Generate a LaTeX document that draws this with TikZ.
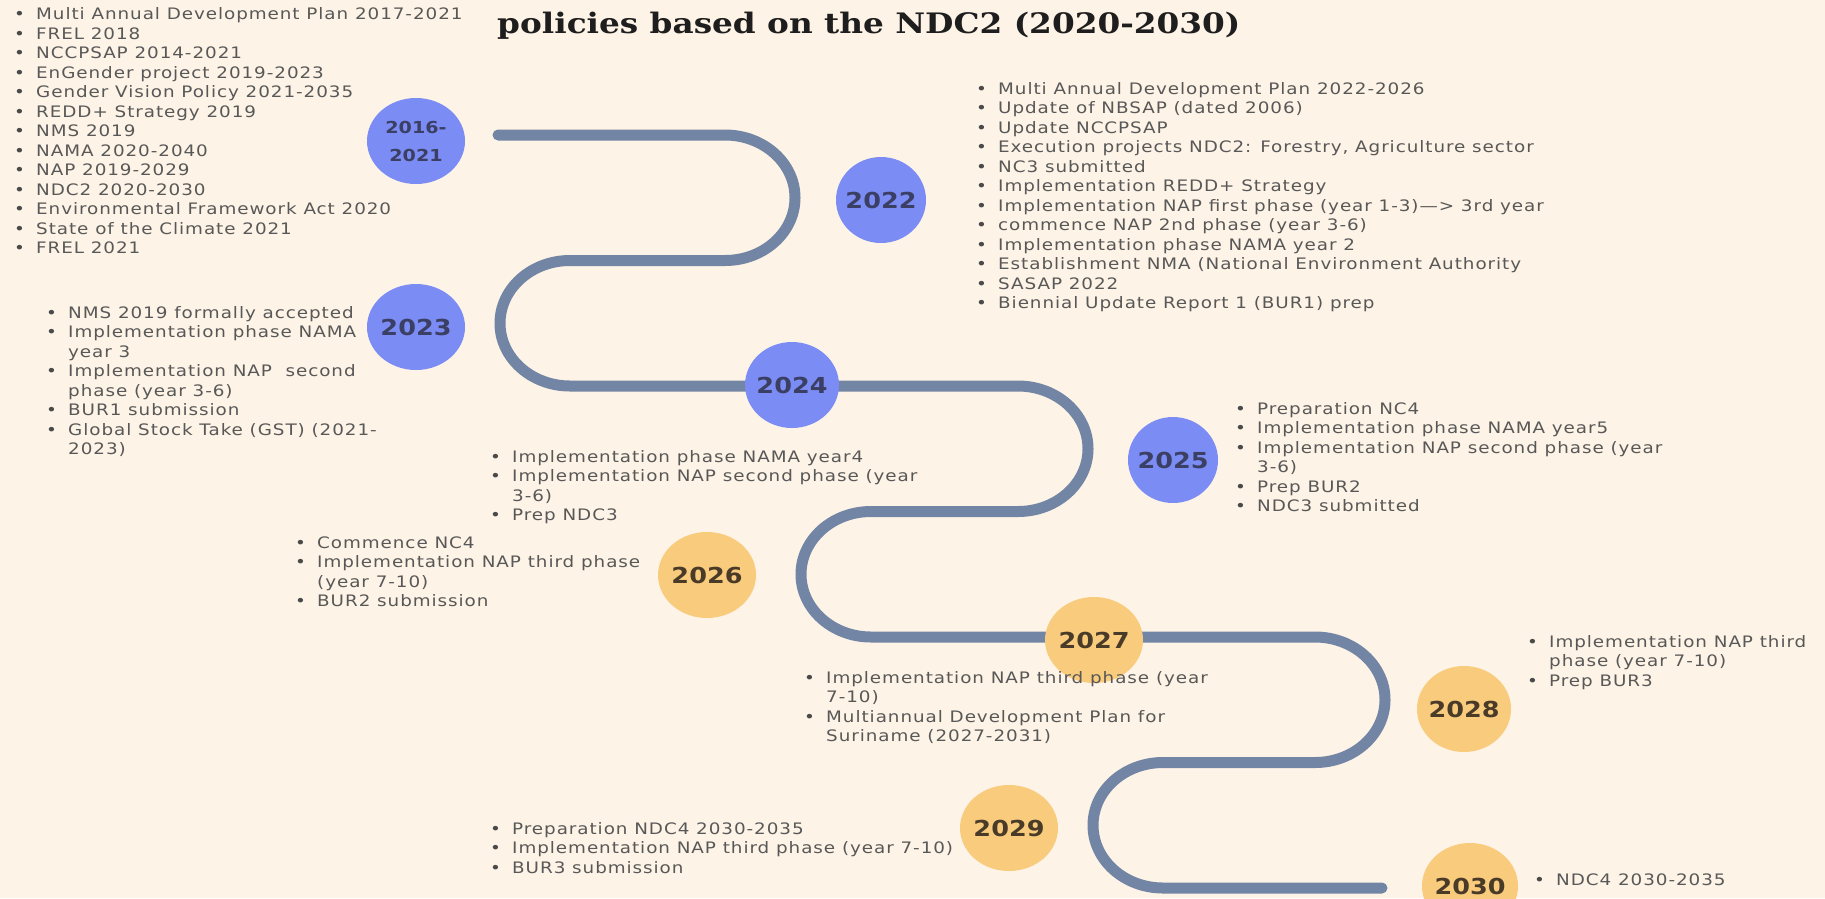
\documentclass[tikz,border=0pt]{standalone}
\usepackage{fontspec}
\setmainfont{DejaVu Sans}[FakeStretch=1.16]
\newfontfamily\listfont{DejaVu Sans}[FakeStretch=1.16,LetterSpace=6]
\newfontfamily\titlefont{DejaVu Serif}[FakeStretch=1.16]
\usetikzlibrary{shapes.geometric}
\definecolor{bgc}{HTML}{FDF3E6}
\definecolor{roadc}{HTML}{7385A5}
\definecolor{bluec}{HTML}{7B8CF4}
\definecolor{orangec}{HTML}{F9CB7C}
\definecolor{bluetxt}{HTML}{3B3F63}
\definecolor{orangetxt}{HTML}{4A3B28}
\definecolor{listc}{HTML}{585858}
\definecolor{bulc}{HTML}{4A4A4A}
\definecolor{titlec}{HTML}{1E1E1E}
\newcommand{\bu}{\makebox[22pt][l]{\textcolor{bulc}{\textbullet}}}
\tikzset{
  road/.style={line width=11pt, draw=roadc, line cap=round, line join=round},
  yearblob/.style={ellipse, minimum width=98pt, minimum height=86pt, inner sep=0pt,
    inner xsep=-30pt, inner ysep=-10pt, font=\bfseries\fontsize{22}{22}\selectfont},
  blueyr/.style={yearblob, fill=bluec, text=bluetxt},
  orangeyr/.style={yearblob, fill=orangec, text=orangetxt},
  listblock/.style={anchor=base west, inner sep=0pt, text=listc,
    font=\listfont\fontsize{15.8}{19.5}\selectfont},
}
\begin{document}
\begin{tikzpicture}[x=1pt,y=-1pt]
\useasboundingbox (0,0) rectangle (1825,898);
\fill[bgc] (0,0) rectangle (1825,898);

% winding road
\coordinate (rs) at (498,135);
\coordinate (re) at (1382,888);
\draw[road] (rs) -- (725,135)
  arc[start angle=90,end angle=-90,x radius=70pt,y radius=62.75pt] -- (570,260.5)
  arc[start angle=90,end angle=270,x radius=70pt,y radius=62.75pt] -- (1018,386)
  arc[start angle=90,end angle=-90,x radius=70pt,y radius=62.75pt] -- (871,511.5)
  arc[start angle=90,end angle=270,x radius=70pt,y radius=62.75pt] -- (1315,637)
  arc[start angle=90,end angle=-90,x radius=70pt,y radius=62.75pt] -- (1163,762.5)
  arc[start angle=90,end angle=270,x radius=70pt,y radius=62.75pt] -- (re);

% year circles
\node[blueyr, align=center, font=\bfseries\fontsize{16.5}{28}\selectfont] (c1) at (416,141) {2016-\\2021};
\node[blueyr, minimum width=90pt] (c2) at (881,200) {2022};
\node[blueyr] (c3) at (416,327) {2023};
\node[blueyr, minimum width=94pt] (c4) at (792,385) {2024};
\node[blueyr, minimum width=90pt] (c5) at (1173,460) {2025};
\node[orangeyr] (c6) at (707,575) {2026};
\node[orangeyr] (c7) at (1094,640) {2027};
\node[orangeyr, minimum width=94pt] (c8) at (1464,709) {2028};
\node[orangeyr] (c9) at (1009,828) {2029};
\node[orangeyr, minimum width=96pt] (c10) at (1470,886) {2030};

% title
\node[anchor=base west, inner sep=0pt, text=titlec,
  font=\titlefont\bfseries\fontsize{28.2}{28.2}\selectfont] (title) at (497,33)
  {policies based on the NDC2 (2020-2030)};

% lists
\node[listblock] (l1) at (14,19.5) {\begin{tabular}[t]{@{}l@{}l@{}}
\bu & Multi Annual Development Plan 2017-2021\\
\bu & FREL 2018\\
\bu & NCCPSAP 2014-2021\\
\bu & EnGender project 2019-2023\\
\bu & Gender Vision Policy 2021-2035\\
\bu & REDD+ Strategy 2019\\
\bu & NMS 2019\\
\bu & NAMA 2020-2040\\
\bu & NAP 2019-2029\\
\bu & NDC2 2020-2030\\
\bu & Environmental Framework Act 2020\\
\bu & State of the Climate 2021\\
\bu & FREL 2021
\end{tabular}};

\node[listblock] (l2) at (976,94) {\begin{tabular}[t]{@{}l@{}l@{}}
\bu & Multi Annual Development Plan 2022-2026\\
\bu & Update of NBSAP (dated 2006)\\
\bu & Update NCCPSAP\\
\bu & Execution projects NDC2: Forestry, Agriculture sector\\
\bu & NC3 submitted\\
\bu & Implementation REDD+ Strategy\\
\bu & Implementation NAP first phase (year 1-3)—> 3rd year\\
\bu & commence NAP 2nd phase (year 3-6)\\
\bu & Implementation phase NAMA year 2\\
\bu & Establishment NMA (National Environment Authority\\
\bu & SASAP 2022\\
\bu & Biennial Update Report 1 (BUR1) prep
\end{tabular}};

\node[listblock] (l3) at (46,318) {\begin{tabular}[t]{@{}l@{}l@{}}
\bu & NMS 2019 formally accepted\\
\bu & Implementation phase NAMA\\
    & year 3\\
\bu & Implementation NAP\ \ second\\
    & phase (year 3-6)\\
\bu & BUR1 submission\\
\bu & Global Stock Take (GST) (2021-\\
    & 2023)
\end{tabular}};

\node[listblock] (l4) at (490,462) {\begin{tabular}[t]{@{}l@{}l@{}}
\bu & Implementation phase NAMA year4\\
\bu & Implementation NAP second phase (year\\
    & 3-6)\\
\bu & Prep NDC3
\end{tabular}};

\node[listblock] (l5) at (1235,414) {\begin{tabular}[t]{@{}l@{}l@{}}
\bu & Preparation NC4\\
\bu & Implementation phase NAMA year5\\
\bu & Implementation NAP second phase (year\\
    & 3-6)\\
\bu & Prep BUR2\\
\bu & NDC3 submitted
\end{tabular}};

\node[listblock] (l6) at (295,548) {\begin{tabular}[t]{@{}l@{}l@{}}
\bu & Commence NC4\\
\bu & Implementation NAP third phase\\
    & (year 7-10)\\
\bu & BUR2 submission
\end{tabular}};

\node[listblock] (l7) at (804,683) {\begin{tabular}[t]{@{}l@{}l@{}}
\bu & Implementation NAP third phase (year\\
    & 7-10)\\
\bu & Multiannual Development Plan for\\
    & Suriname (2027-2031)
\end{tabular}};

\node[listblock] (l8) at (1527,647) {\begin{tabular}[t]{@{}l@{}l@{}}
\bu & Implementation NAP third\\
    & phase (year 7-10)\\
\bu & Prep BUR3
\end{tabular}};

\node[listblock] (l9) at (490,834) {\begin{tabular}[t]{@{}l@{}l@{}}
\bu & Preparation NDC4 2030-2035\\
\bu & Implementation NAP third phase (year 7-10)\\
\bu & BUR3 submission
\end{tabular}};

\node[listblock] (l10) at (1534,885) {\begin{tabular}[t]{@{}l@{}l@{}}
\bu & NDC4 2030-2035
\end{tabular}};
\end{tikzpicture}
\end{document}
